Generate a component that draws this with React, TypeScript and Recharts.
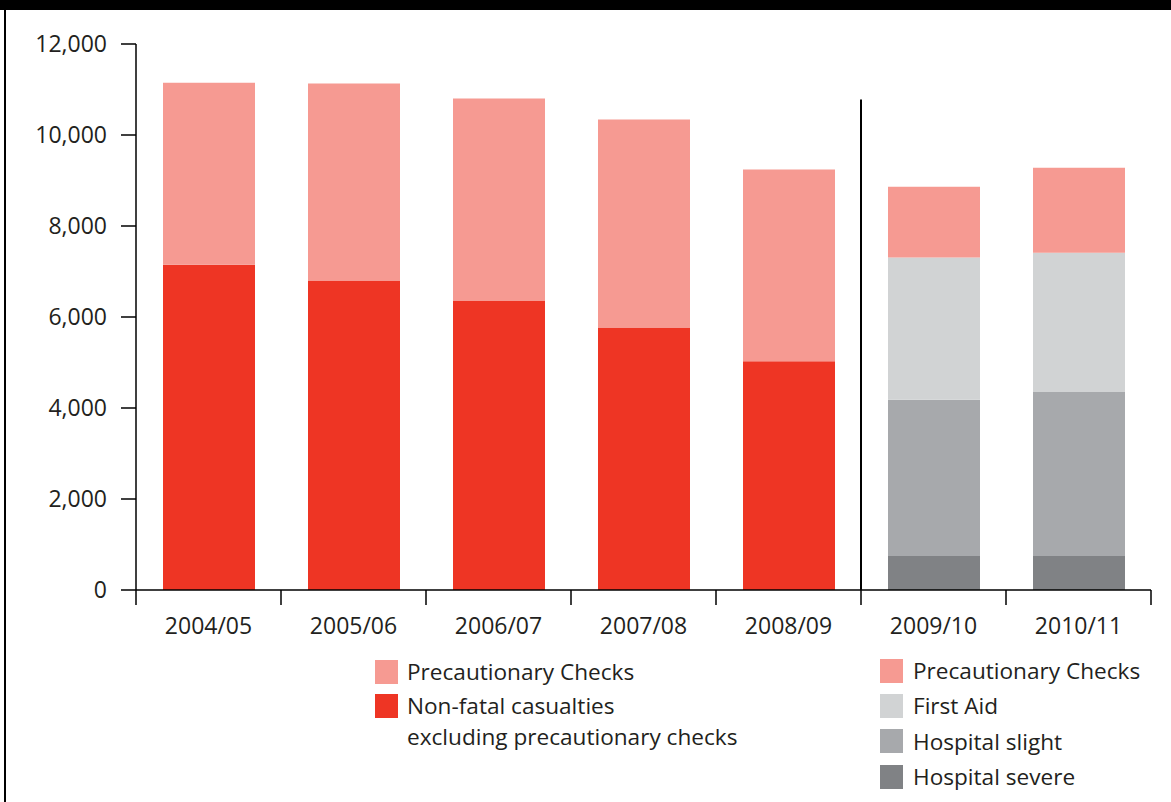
import React from "react";
import { BarChart, Bar, XAxis, YAxis, ReferenceLine } from "recharts";

const years = ["2004/05", "2005/06", "2006/07", "2007/08", "2008/09", "2009/10", "2010/11"];
const precautionary = [4000, 4330, 4450, 4570, 4210, 1560, 1870];
const nonFatal = [7150, 6800, 6350, 5770, 5030, null, null];
const hospitalSevere = [null, null, null, null, null, 745, 745];
const hospitalSlight = [null, null, null, null, null, 3435, 3605];
const firstAid = [null, null, null, null, null, 3125, 3060];
const yTicks = [0, 2000, 4000, 6000, 8000, 10000, 12000];

const COLORS = {
  precautionary: "#f69a92",
  nonFatal: "#ee3524",
  firstAid: "#d1d3d4",
  slight: "#a7a9ac",
  severe: "#808285",
};
const TEXT = "#231f20";
const FONT = "'Open Sans', 'Noto Sans', sans-serif";

const data = years.map((year, i) => ({
  year,
  precautionary: precautionary[i],
  nonFatal: nonFatal[i],
  hospitalSevere: hospitalSevere[i],
  hospitalSlight: hospitalSlight[i],
  firstAid: firstAid[i],
}));

// tick marks sit on the category boundaries, labels in the middle
const YearTick = (props: any) => {
  const { x, y, payload, index, width } = props;
  const step = (width || 1015) / years.length;
  const left = x - step / 2;
  return (
    <g>
      <line x1={left} y1={y} x2={left} y2={y + 15} stroke="#000" strokeWidth={1.5} />
      {index === years.length - 1 && (
        <line x1={left + step} y1={y} x2={left + step} y2={y + 15} stroke="#000" strokeWidth={1.5} />
      )}
      <text x={x} y={y + 44} textAnchor="middle" fill={TEXT} fontSize={23} fontFamily={FONT}>
        {payload.value}
      </text>
    </g>
  );
};

const Swatch = ({ color }: { color: string }) => (
  <div style={{ width: 23, height: 24, background: color, flexShrink: 0 }} />
);

const legendText: React.CSSProperties = {
  fontSize: 22.6,
  color: TEXT,
  lineHeight: "31px",
  marginLeft: 9,
};

function App() {
  return (
    <div
      style={{
        position: "absolute",
        left: 0,
        top: 0,
        width: 1171,
        height: 802,
        background: "#fff",
        fontFamily: FONT,
        overflow: "hidden",
      }}
    >
      {/* frame bits */}
      <div style={{ position: "absolute", left: 0, top: 0, width: 1171, height: 10, background: "#000" }} />
      <div style={{ position: "absolute", left: 4, top: 0, width: 2, height: 802, background: "#000" }} />

      <BarChart
        width={1171}
        height={802}
        data={data}
        margin={{ top: 44, right: 20, left: 0, bottom: 172 }}
        barSize={92}
      >
        <XAxis
          dataKey="year"
          height={40}
          axisLine={{ stroke: "#000", strokeWidth: 1.5 }}
          tickLine={false}
          tickSize={0}
          tickMargin={0}
          interval={0}
          tick={<YearTick />}
        />
        <YAxis
          width={136}
          domain={[0, 12000]}
          ticks={yTicks}
          tickFormatter={(v: number) => v.toLocaleString("en-US")}
          axisLine={{ stroke: "#000", strokeWidth: 1.5 }}
          tickLine={{ stroke: "#000", strokeWidth: 1.5 }}
          tickSize={15}
          tickMargin={14}
          tick={{ fill: TEXT, fontSize: 23, fontFamily: FONT }}
        />
        <Bar dataKey="nonFatal" stackId="a" fill={COLORS.nonFatal} isAnimationActive={false} />
        <Bar dataKey="hospitalSevere" stackId="a" fill={COLORS.severe} isAnimationActive={false} />
        <Bar dataKey="hospitalSlight" stackId="a" fill={COLORS.slight} isAnimationActive={false} />
        <Bar dataKey="firstAid" stackId="a" fill={COLORS.firstAid} isAnimationActive={false} />
        <Bar dataKey="precautionary" stackId="a" fill={COLORS.precautionary} isAnimationActive={false} />
        <ReferenceLine
          segment={[
            { x: "2009/10", y: 0 },
            { x: "2009/10", y: 10780 },
          ]}
          position="start"
          stroke="#000"
          strokeWidth={2}
          ifOverflow="visible"
        />
      </BarChart>

      {/* legend: old series */}
      <div style={{ position: "absolute", left: 375, top: 653 }}>
        <div style={{ display: "flex", alignItems: "center", height: 37 }}>
          <Swatch color={COLORS.precautionary} />
          <span style={legendText}>Precautionary Checks</span>
        </div>
        <div style={{ display: "flex", alignItems: "flex-start" }}>
          <div style={{ marginTop: 4 }}>
            <Swatch color={COLORS.nonFatal} />
          </div>
          <span style={legendText}>
            Non-fatal casualties
            <br />
            excluding precautionary checks
          </span>
        </div>
      </div>

      {/* legend: new series */}
      <div style={{ position: "absolute", left: 880, top: 653 }}>
        {[
          ["Precautionary Checks", COLORS.precautionary],
          ["First Aid", COLORS.firstAid],
          ["Hospital slight", COLORS.slight],
          ["Hospital severe", COLORS.severe],
        ].map(([label, color]) => (
          <div key={label} style={{ display: "flex", alignItems: "center", height: 35.3 }}>
            <Swatch color={color} />
            <span style={{ ...legendText, marginLeft: 10 }}>{label}</span>
          </div>
        ))}
      </div>
    </div>
  );
}

export default App;
